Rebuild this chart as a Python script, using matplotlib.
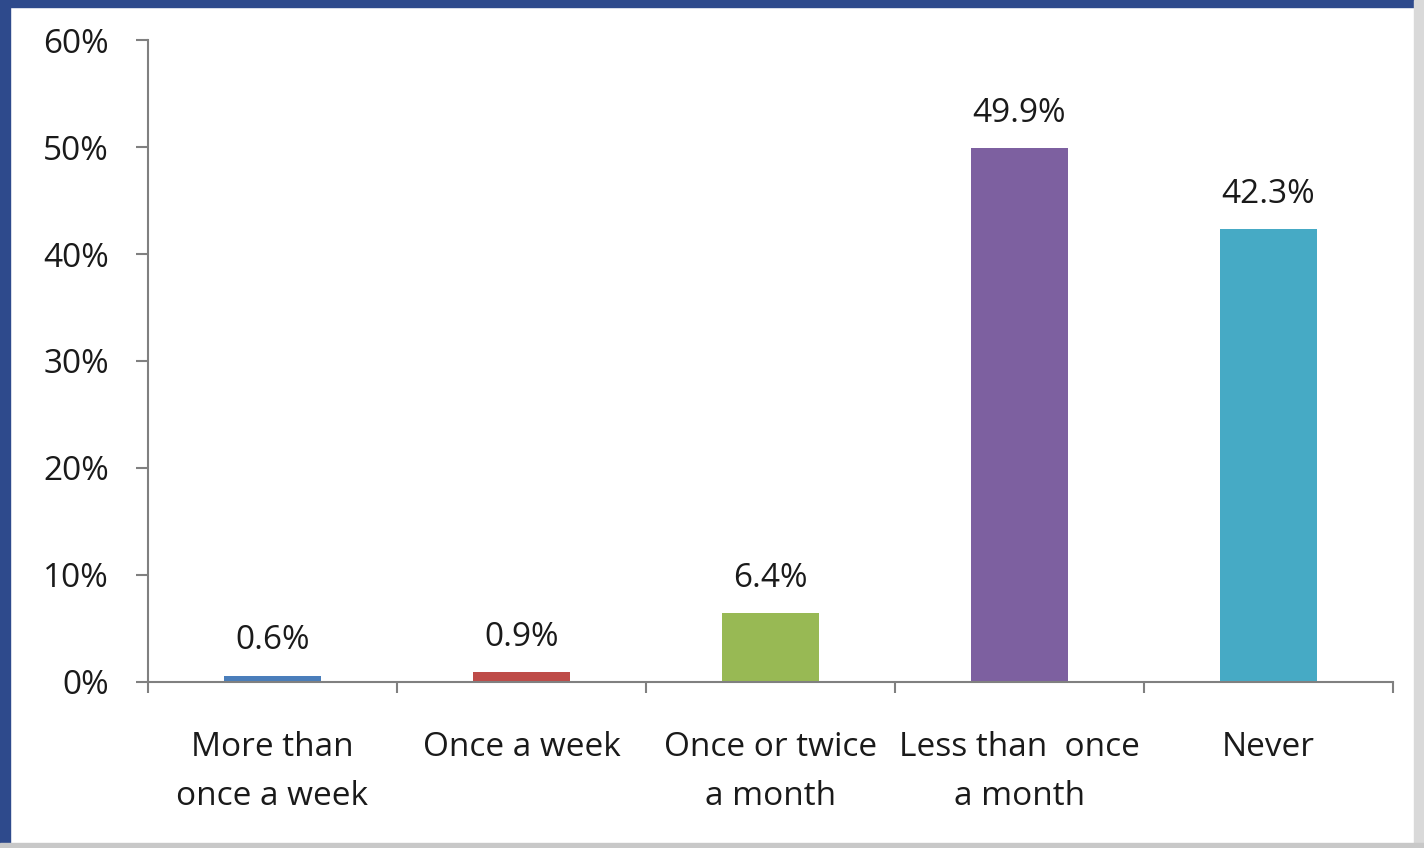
import matplotlib.pyplot as plt
from matplotlib.patches import Rectangle
from matplotlib.ticker import FuncFormatter, MultipleLocator

categories = ["More than\nonce a week", "Once a week", "Once or twice\na month",
              "Less than  once\na month", "Never"]
shares = [0.6, 0.9, 6.4, 49.9, 42.3]
labels = ["0.6%", "0.9%", "6.4%", "49.9%", "42.3%"]
bar_colors = ["#4a7ebb", "#be4b48", "#98b954", "#7d60a0", "#46aac5"]

plt.rcParams['font.family'] = ['Open Sans', 'DejaVu Sans']

fig = plt.figure(figsize=(14.24, 8.48), dpi=100)
fig.patch.set_facecolor('white')

# frame around the chart area
fig.patches.append(Rectangle((0, 0), 0.007, 1, transform=fig.transFigure,
                             color='#2e4a8c', zorder=0))
fig.patches.append(Rectangle((0, 0.992), 1, 0.008, transform=fig.transFigure,
                             color='#2e4a8c', zorder=0))
fig.patches.append(Rectangle((0.993, 0), 0.007, 1, transform=fig.transFigure,
                             color='#d9d9d9', zorder=0))
fig.patches.append(Rectangle((0, 0), 1, 0.006, transform=fig.transFigure,
                             color='#c8c8c8', zorder=0))

ax = fig.add_axes([0.1039, 0.1958, 0.8743, 0.757])
x = list(range(len(categories)))
ax.bar(x, shares, width=0.39, color=bar_colors, zorder=2)

for xi, v, lab in zip(x, shares, labels):
    ax.annotate(lab, (xi, v), xytext=(0, 25), textcoords='offset points',
                ha='center', va='center', fontsize=24, color='#1a1a1a')

ax.set_xlim(-0.5, len(categories) - 0.5)
ax.set_ylim(0, 60)
ax.yaxis.set_major_locator(MultipleLocator(10))
ax.yaxis.set_major_formatter(FuncFormatter(lambda v, p: f"{v:.0f}%"))

ax.set_xticks([i + 0.5 for i in range(-1, len(categories))])
ax.set_xticklabels([])
ax.set_xticks(x, minor=True)
ax.set_xticklabels(categories, minor=True, fontsize=24, color='#1a1a1a',
                   linespacing=1.65)
ax.tick_params(axis='x', which='major', length=8, width=1.5, color='#808080',
               direction='out')
ax.tick_params(axis='x', which='minor', length=0, pad=35)
ax.tick_params(axis='y', length=9, width=1.5, color='#808080', pad=19,
               labelsize=24, labelcolor='#1a1a1a')

for side in ['top', 'right']:
    ax.spines[side].set_visible(False)
for side in ['left', 'bottom']:
    ax.spines[side].set_color('#808080')
    ax.spines[side].set_linewidth(1.5)

fig.savefig('out.png', dpi=100, facecolor=fig.get_facecolor())
